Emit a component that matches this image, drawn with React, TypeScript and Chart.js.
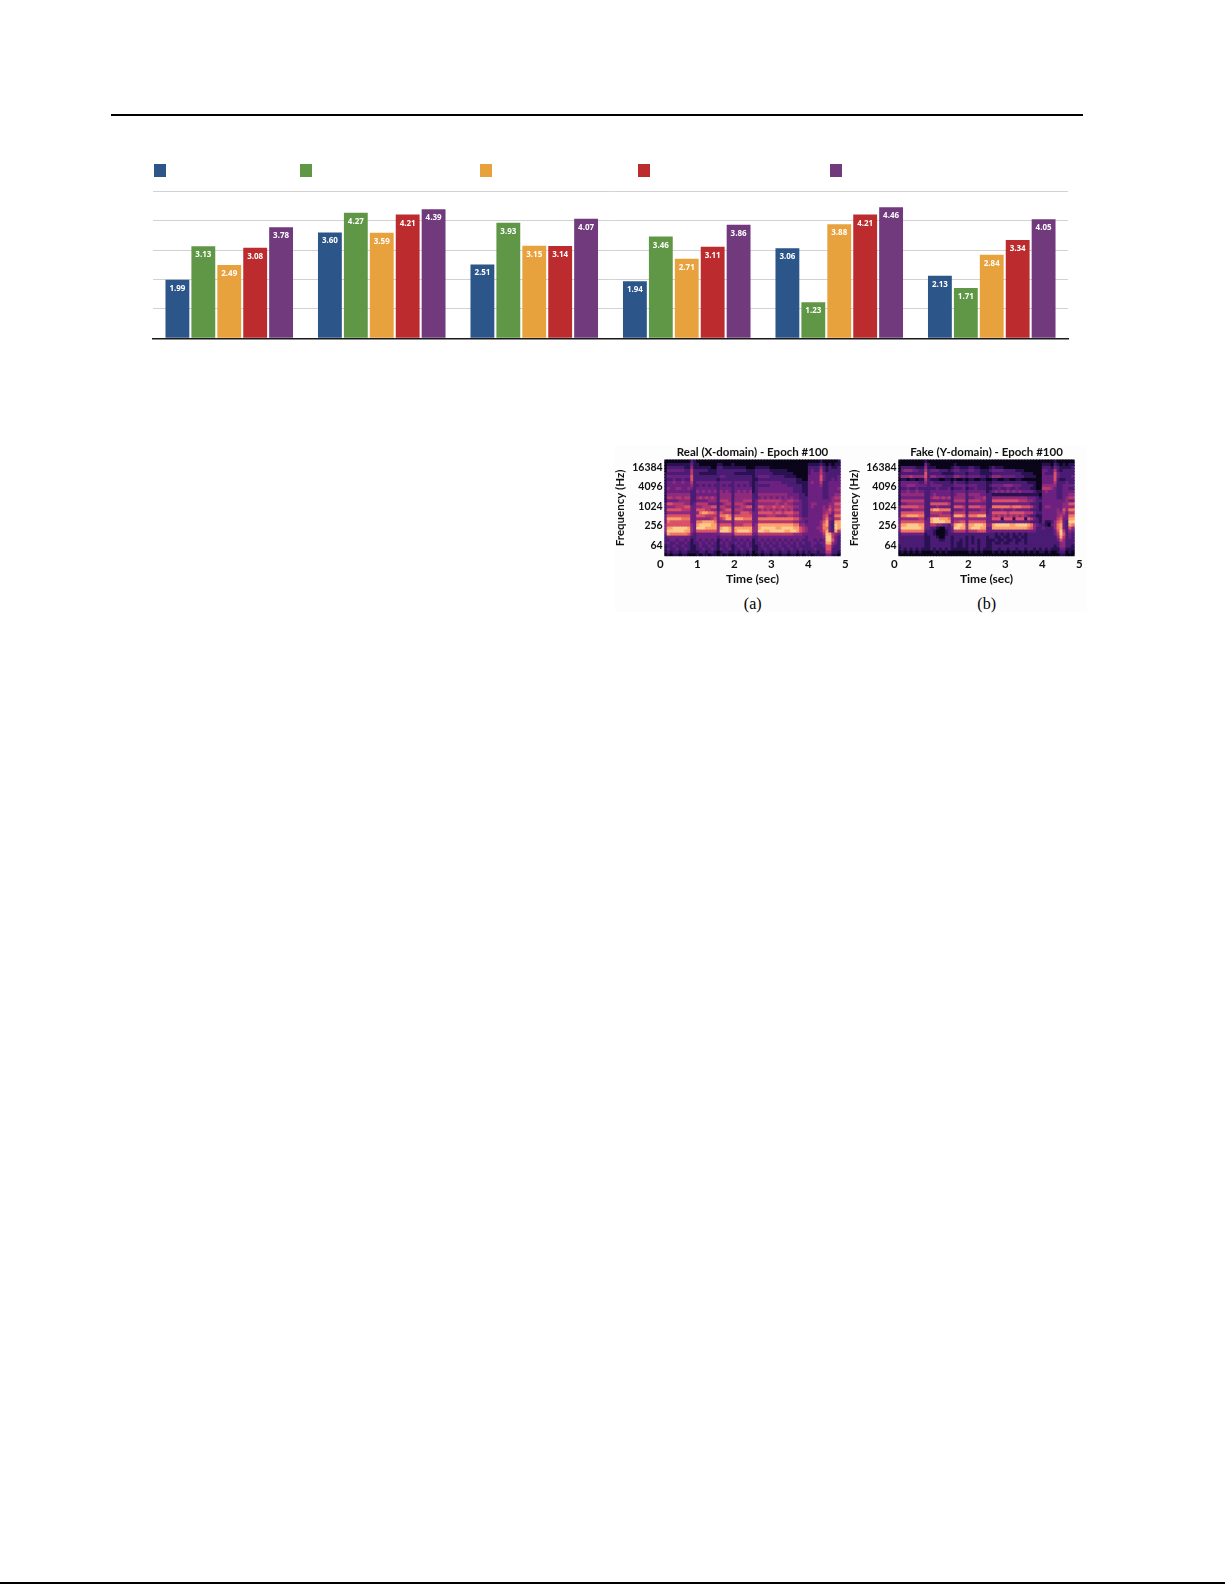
import { useEffect, useRef } from "react";
import { Chart, registerables, Plugin } from "chart.js";

Chart.register(...registerables);

const FONT = "Lato, 'Open Sans', sans-serif";

// bar chart data, legend text is not readable in the figure so series are just numbered
const categories = ["A", "B", "C", "D", "E", "F"];
const seriesNames = ["Series 1", "Series 2", "Series 3", "Series 4", "Series 5"];
const seriesColors = ["#2c5589", "#5f9747", "#e8a23d", "#bc2b2e", "#703a7d"];
const series1 = [1.99, 3.6, 2.51, 1.94, 3.06, 2.13];
const series2 = [3.13, 4.27, 3.93, 3.46, 1.23, 1.71];
const series3 = [2.49, 3.59, 3.15, 2.71, 3.88, 2.84];
const series4 = [3.08, 4.21, 3.14, 3.11, 4.21, 3.34];
const series5 = [3.78, 4.39, 4.07, 3.86, 4.46, 4.05];
const legendLeft = [11, 157, 337, 495, 687];

// spectrogram intensity 0-9, one string per row (top row first)
const magma = ["#0a0518", "#2a1152", "#4a1c74", "#6c2180", "#8e2b7c", "#b5386f", "#d9516a", "#ef7560", "#fca36c", "#fdcb8c"];
const freqTicks = [6, 8, 10, 12, 14];
const timeTicks = [0, 1, 2, 3, 4, 5];

const realRows = [
  "0 00000000 21 0000000 0 0000 0 000000 00 00000000000000000 0000 10 000 01",
  "0 11111111 31 1000000 1 1000 1 000000 00 00000000000000000 1111 21 010 11",
  "0 22222211 41 1111100 2 2111 1 111100 01 11110000000000000 2222 42 121 12",
  "0 33333322 52 2222111 2 2222 2 222211 12 22221111110000000 2322 52 122 22",
  "1 22222222 52 2111111 2 2222 2 111111 12 22222111111100000 2333 53 222 22",
  "1 33333333 62 2222222 2 3322 2 222222 12 33332222211110000 3333 63 222 23",
  "1 22322322 62 2222222 1 2222 2 222222 11 22222222222221100 3333 63 223 23",
  "1 33433433 52 3333333 2 3333 2 333332 12 33333333222221111 3433 52 233 33",
  "1 33333333 42 2323232 2 3232 2 323232 12 22223333332222211 3333 42 233 33",
  "1 43344334 32 3333333 2 3333 2 333333 12 33333333333322211 3333 32 233 34",
  "1 33333333 22 4343434 2 4343 2 343434 12 33333333333322211 3333 32 233 33",
  "1 44444444 22 3333333 2 4444 2 444444 22 44444444443333221 3333 32 233 44",
  "1 55455455 22 4545454 2 4444 2 444444 22 34343434343433222 3333 32 234 55",
  "1 33334444 22 3333444 2 5554 2 444555 23 55555555445544322 3333 33 334 44",
  "2 66555544 23 5555333 2 3455 2 555433 23 44444454454433322 3443 33 344 66",
  "2 44455566 33 4455566 2 5544 2 445566 23 66555655655544322 3433 34 354 55",
  "2 66666555 33 6665544 2 4566 2 555444 23 45454545454533322 3333 34 464 66",
  "2 44444444 33 4788776 3 6555 2 446665 33 66666566566655322 3333 34 553 55",
  "3 66666666 33 6665555 3 7787 3 666666 33 44455544445544322 3333 35 633 77",
  "3 88888777 33 4444456 3 5688 3 888777 33 77777777777766433 3333 35 743 55",
  "3 76666666 33 7788887 3 4444 3 555555 33 55555555555544332 3333 46 832 88",
  "4 66666666 43 8999988 4 6666 3 555666 34 88888888888877443 3333 47 832 98",
  "4 88999998 43 9998888 4 8998 4 888888 44 89999988999988654 3334 47 732 98",
  "4 99999988 43 6666666 4 9998 4 899998 44 99889999988998654 3333 46 832 85",
  "3 87777776 32 3333333 3 4444 3 666666 33 55555555555544433 3333 35 985 43",
  "2 33333333 22 3333333 2 3333 2 333333 22 33333333333333332 3333 34 995 32",
  "2 23323323 12 3232323 1 2323 2 232323 12 32323232323232322 3323 23 996 32",
  "2 32232232 12 2323232 1 3232 2 323232 12 23232323232323232 2332 33 884 32",
  "1 22322322 11 2322322 1 2232 1 232232 11 23223223223223222 2322 23 663 22",
  "1 32232232 11 2232232 1 3223 1 223223 11 22322322322322322 2232 22 662 22",
  "1 21221221 11 1221221 0 1221 1 212212 01 21221221221221212 1221 22 552 21",
  "0 10110110 00 1011011 0 1010 0 101101 00 10110110110110101 1011 11 331 10",
];

const fakeRows = [
  "0 00000000 10 0000000 0 0000 0 000000 00 00000000000000000 0000 10 000 00",
  "0 00000000 31 0000000 0 1000 0 000000 00 00000000000000000 1110 21 010 11",
  "0 22222111 41 1100000 1 2211 1 221100 01 21110000000000000 2221 32 111 12",
  "0 34443322 52 3332221 2 3322 2 332211 12 33332222111000000 3322 52 122 22",
  "1 22222222 62 2222111 1 2222 1 222211 11 22222222221111000 3222 63 222 22",
  "1 44454444 62 4433322 2 4433 2 333322 12 44433333222111100 3333 63 222 23",
  "0 11011011 52 1110011 0 1001 0 110011 00 11001100110000000 3333 62 112 22",
  "1 33333322 42 3222222 1 3222 1 222222 11 22222222222211100 3333 52 223 22",
  "1 33444333 32 3333222 2 3333 2 333222 12 33334443332222100 4444 42 233 33",
  "1 22322322 22 2232223 1 2223 1 223222 11 22322322322221100 5554 32 233 22",
  "1 33433433 22 3333333 2 3333 2 333333 12 34343434343333211 3433 32 233 33",
  "1 44444444 22 3433333 2 3444 2 444433 22 11111111111111110 3333 32 233 44",
  "1 33333333 22 4554545 2 4444 2 334445 22 44444444444433321 3333 32 234 55",
  "1 55555555 22 3333333 2 5555 2 555544 22 66666666655544322 3333 33 334 33",
  "1 33444444 22 6666665 2 3333 2 333333 22 33333333333332221 3333 33 344 66",
  "2 66666655 22 3343333 2 6665 2 666655 22 77777767776665321 3443 33 344 44",
  "2 33334444 22 7887777 2 3334 2 333344 23 33343334333332221 3333 34 364 77",
  "2 66666666 22 5555444 2 5555 2 555555 23 66666566666555322 3333 34 453 55",
  "2 77888877 22 4445555 3 8887 3 777888 33 54545454545432211 3333 34 543 77",
  "3 44444455 23 8998887 3 4444 3 444444 33 66616661666165321 3333 35 633 88",
  "3 66666666 33 8999988 3 5566 3 666666 33 33333333333332221 3112 46 732 99",
  "4 88999988 33 5544332 4 8998 4 889998 44 89999988999987432 2103 47 832 87",
  "4 99999998 33 2210022 3 9988 4 899988 33 88888888888876422 3222 47 832 64",
  "3 77777777 22 2100012 3 5555 3 555666 33 33333333333333322 2222 36 952 43",
  "2 33333333 12 2100012 2 2222 2 222222 22 21212121212122222 2222 35 962 32",
  "2 22222222 11 2210022 1 2222 1 212222 12 21121121121122222 2222 24 852 32",
  "2 22222222 11 2221122 1 2212 1 212122 11 12112112112122222 2222 23 642 22",
  "2 22222222 11 2222222 1 2112 1 212122 11 21121122122122222 2222 22 442 22",
  "1 22222222 11 2222222 1 2112 1 222122 11 22222222222222222 2222 12 442 21",
  "1 21212121 11 2121212 1 1111 1 212121 11 22122122122122121 2121 11 331 11",
  "0 10101010 00 0101010 0 0000 0 101010 00 10101010101010101 1010 01 220 10",
  "0 00000000 00 0000000 0 0000 0 000000 00 00000000000000000 0000 00 110 00",
];

const valueLabels: Plugin<"bar"> = {
  id: "valueLabels",
  afterDatasetsDraw(chart) {
    const { ctx } = chart;
    ctx.save();
    ctx.fillStyle = "#fff";
    ctx.font = "bold 8px 'Open Sans'";
    ctx.textAlign = "center";
    ctx.textBaseline = "middle";
    chart.data.datasets.forEach((ds, i) => {
      chart.getDatasetMeta(i).data.forEach((bar, j) => {
        ctx.fillText((ds.data[j] as number).toFixed(2), bar.x, bar.y + 8.7);
      });
    });
    ctx.restore();
  },
};

const legendSwatches: Plugin<"bar"> = {
  id: "legendSwatches",
  afterDraw(chart) {
    const { ctx } = chart;
    chart.data.datasets.forEach((ds, i) => {
      ctx.fillStyle = ds.backgroundColor as string;
      ctx.fillRect(legendLeft[i], 14, 12, 13);
    });
  },
};

function BarPanel() {
  const ref = useRef<HTMLCanvasElement | null>(null);

  useEffect(() => {
    const values = [series1, series2, series3, series4, series5];
    const chart = new Chart(ref.current as HTMLCanvasElement, {
      type: "bar",
      data: {
        labels: categories,
        datasets: values.map((data, i) => ({
          label: seriesNames[i],
          data,
          backgroundColor: seriesColors[i],
          categoryPercentage: 0.85,
          barPercentage: 0.92,
        })),
      },
      options: {
        animation: false,
        responsive: false,
        layout: { padding: { left: 10, right: 10, top: 41.3, bottom: 11.7 } },
        plugins: { legend: { display: false }, tooltip: { enabled: false } },
        scales: {
          x: {
            grid: { display: false },
            ticks: { display: false },
            border: { color: "#1a1a1a", width: 1.5 },
            afterFit: (s: any) => { s.height = 0; },
          },
          y: {
            min: 0,
            max: 5,
            ticks: { display: false, stepSize: 1 },
            grid: { color: "#d2d2d2", lineWidth: 1, drawTicks: false },
            border: { display: false },
            afterFit: (s: any) => { s.width = 0; },
          },
        },
      },
      plugins: [valueLabels, legendSwatches],
    });
    return () => chart.destroy();
  }, []);

  return <canvas ref={ref} width={935} height={200} style={{ position: "absolute", left: 143, top: 150 }} />;
}

function Spectrogram({ rows, title, left, caption }: { rows: string[]; title: string; left: number; caption: string }) {
  const ref = useRef<HTMLCanvasElement | null>(null);

  useEffect(() => {
    const grid = rows.map((r) => r.replace(/ /g, "").split("").map(Number));
    const nCols = grid[0].length;
    const nRows = grid.length;
    // the image starts a bit after the 0 tick and stops a bit before the 5 tick,
    // so the axis only covers the image and the outer ticks sit outside it
    const tStart = 0.108;
    const tEnd = 4.876;
    const yMin = 4.91;
    const yMax = 14.79;
    const dt = (tEnd - tStart) / nCols;
    const dy = (yMax - yMin) / nRows;

    const chart = new Chart(ref.current as HTMLCanvasElement, {
      type: "bar",
      data: {
        datasets: grid.map((row, r) => ({
          data: row.map((_, c) => ({
            x: tStart + (c + 0.5) * dt,
            y: [yMax - (r + 1) * dy, yMax - r * dy + dy * 0.08],
          })) as any,
          backgroundColor: row.map((v) => magma[v]),
          grouped: false,
          barThickness: 3.3,
          borderWidth: 0,
        })),
      },
      options: {
        animation: false,
        responsive: false,
        layout: { padding: { left: 0, right: 16.3, top: 0, bottom: 0 } },
        plugins: {
          legend: { display: false },
          tooltip: { enabled: false },
          title: {
            display: true,
            fullSize: false,
            text: title,
            color: "#111",
            font: { family: FONT, size: 11.5, weight: "bold" },
            padding: { top: 7.7, bottom: 0 },
          },
        },
        scales: {
          x: {
            type: "linear",
            offset: false,
            min: tStart,
            max: tEnd,
            afterBuildTicks: (s: any) => { s.ticks = timeTicks.map((value) => ({ value })); },
            afterFit: (s: any) => { s.height = 31.7; },
            grid: { display: false, drawTicks: false },
            border: { display: false },
            ticks: { color: "#111", font: { family: FONT, size: 11.5, weight: "bold" }, padding: 1.5, maxRotation: 0, autoSkip: false },
            title: {
              display: true,
              text: "Time (sec)",
              color: "#111",
              font: { family: FONT, size: 12, weight: "bold" },
              padding: { top: 0, bottom: 2.1 },
            },
          },
          y: {
            min: yMin,
            max: yMax,
            afterBuildTicks: (s: any) => { s.ticks = freqTicks.map((value) => ({ value })); },
            afterFit: (s: any) => { s.width = 54.3; },
            grid: { display: false, drawTicks: false },
            border: { display: false },
            ticks: {
              color: "#111",
              font: { family: FONT, size: 10.5, weight: "bold" },
              padding: 1.6,
              callback: (v: any) => String(Math.pow(2, v)),
            },
            title: {
              display: true,
              text: "Frequency (Hz)",
              color: "#111",
              font: { family: FONT, size: 11.5, weight: "bold" },
              padding: { top: 3.8, bottom: 0 },
            },
          },
        },
      },
    });
    return () => chart.destroy();
  }, [rows, title]);

  return (
    <>
      <canvas ref={ref} width={247} height={150} style={{ position: "absolute", left, top: 438, filter: "blur(0.4px)" }} />
      <div
        style={{
          position: "absolute",
          left: left + 97.7,
          top: 595,
          width: 90,
          textAlign: "center",
          fontFamily: "'Liberation Serif', serif",
          fontSize: 16,
          lineHeight: "18px",
        }}
      >
        {caption}
      </div>
    </>
  );
}

export default function App() {
  return (
    <div style={{ position: "absolute", left: 0, top: 0, width: 1225, height: 1585, background: "#fff", overflow: "hidden" }}>
      <div style={{ position: "absolute", left: 111, top: 114, width: 972, height: 2, background: "#000" }} />
      <BarPanel />
      <div style={{ position: "absolute", left: 615, top: 445, width: 472, height: 167, background: "#fdfdfd" }} />
      <Spectrogram rows={realRows} title="Real (X-domain) - Epoch #100" left={610} caption="(a)" />
      <Spectrogram rows={fakeRows} title="Fake (Y-domain) - Epoch #100" left={844} caption="(b)" />
      <div style={{ position: "absolute", left: 0, top: 1582, width: 1225, height: 2, background: "#000" }} />
    </div>
  );
}
